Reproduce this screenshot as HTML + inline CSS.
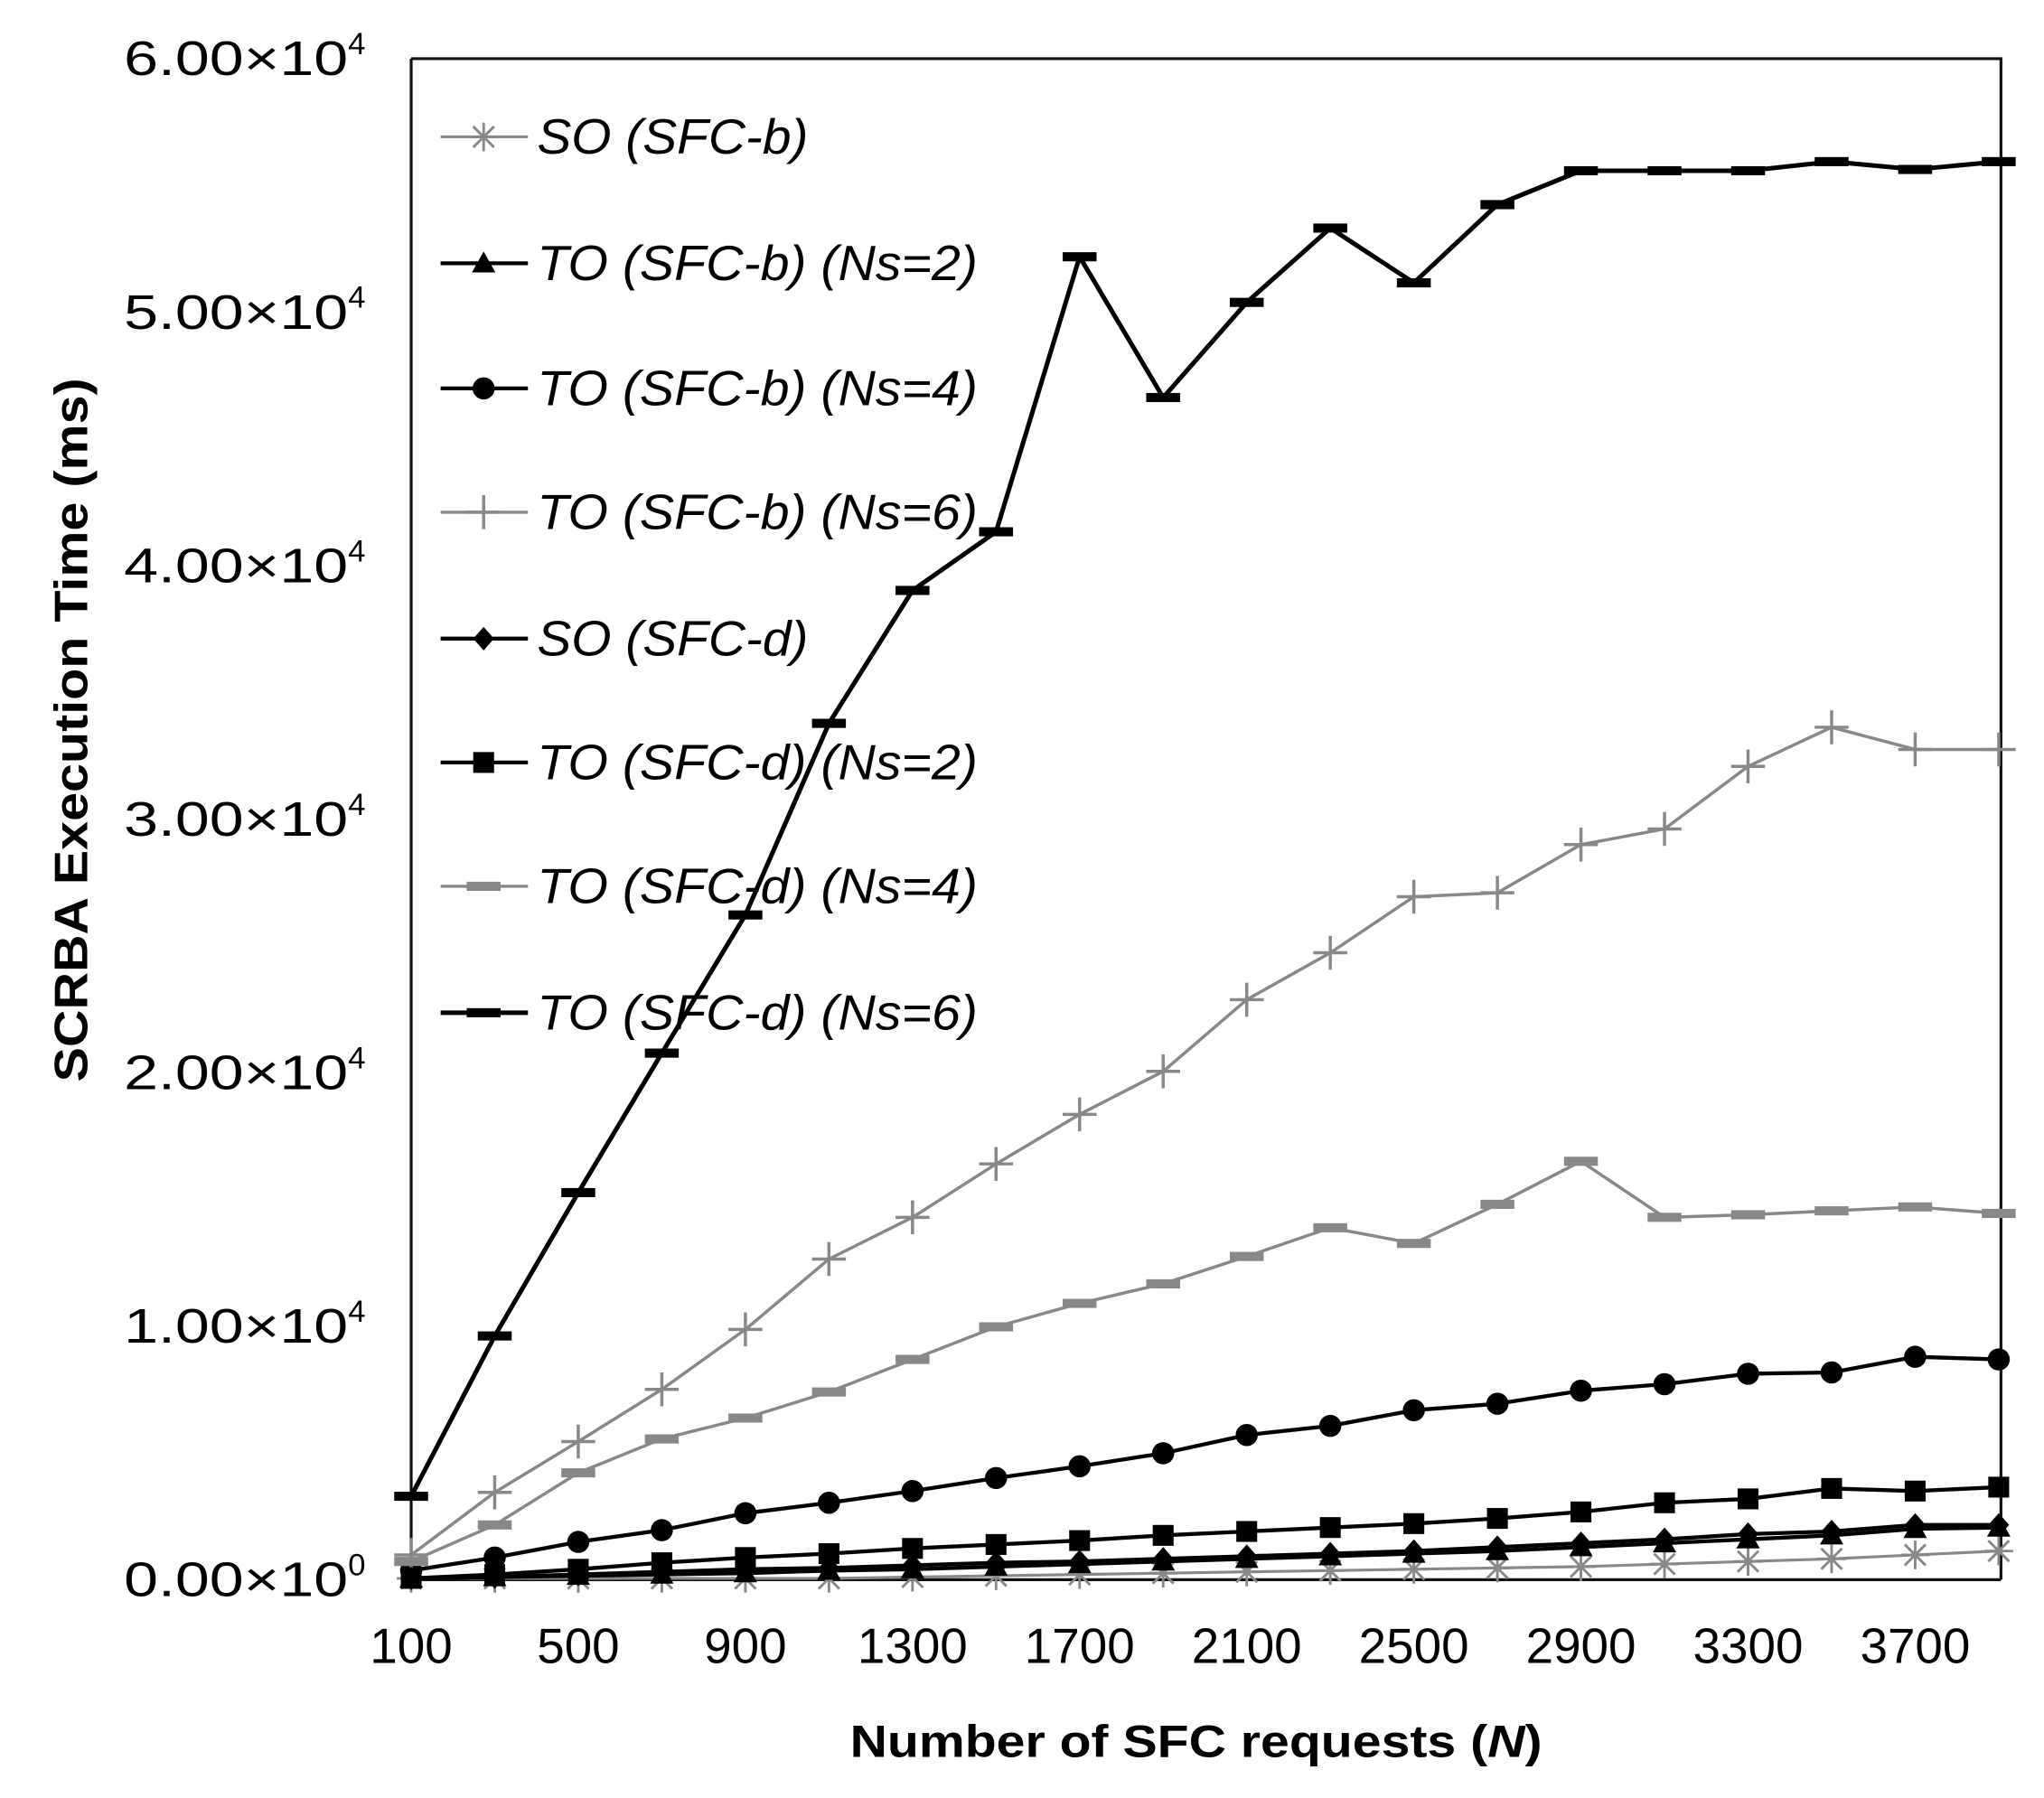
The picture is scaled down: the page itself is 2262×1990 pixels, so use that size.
<!DOCTYPE html>
<html><head><meta charset="utf-8"><style>html,body{margin:0;padding:0;background:#fff}svg{display:block}</style></head>
<body>
<svg id="s" width="2262" height="1990" viewBox="0 0 1568 1379.5" xmlns="http://www.w3.org/2000/svg" font-family="Liberation Sans, Arial, sans-serif">
<rect width="1568" height="1380" fill="#fff"/>
<g id="g"></g>
</svg>
<script>
const NS="http://www.w3.org/2000/svg",g=document.getElementById('g');
function el(t,a,txt){const e=document.createElementNS(NS,t);for(const k in a)e.setAttribute(k,a[k]);if(txt!==undefined)e.textContent=txt;g.appendChild(e);return e;}
const X=i=>315.4+i*64.1;
el('path',{d:'M315.4 45 H1535 V1212 M315.4 45 V1212 H1535',fill:'none',stroke:'#111','stroke-width':2.2});
const ylab=['0.00×10','1.00×10','2.00×10','3.00×10','4.00×10','5.00×10','6.00×10'];
for(let k=0;k<7;k++){const y=1211.7-k*194.5;const t=el('text',{x:95,y:y+13,'font-size':37});const a=document.createElementNS(NS,'tspan');a.setAttribute('textLength',172);a.setAttribute('lengthAdjust','spacingAndGlyphs');a.textContent=ylab[k];t.appendChild(a);const s=document.createElementNS(NS,'tspan');s.setAttribute('dy',-16);s.setAttribute('font-size',24);s.textContent=k?'4':'0';t.appendChild(s);}
for(let k=0;k<10;k++)el('text',{x:X(2*k),y:1276,'text-anchor':'middle','font-size':38},String(100+400*k));
const xt=el('text',{x:652,y:1348,'font-size':35,'font-weight':'bold',textLength:531,lengthAdjust:'spacingAndGlyphs'});
xt.innerHTML='Number of SFC requests (<tspan font-style="italic">N</tspan>)';
el('text',{x:0,y:0,transform:'translate(67 560) rotate(-90)','text-anchor':'middle','font-size':36,'font-weight':'bold',textLength:540,lengthAdjust:'spacingAndGlyphs'},'SCRBA Execution Time (ms)');
function mk(type,x,y,c){
 if(type=='dash')el('rect',{x:x-13,y:y-3.5,width:26,height:7,fill:c});
 else if(type=='plus'){el('path',{d:`M${x-13} ${y}H${x+13}M${x} ${y-13}V${y+13}`,stroke:c,'stroke-width':2.4});}
 else if(type=='circ')el('circle',{cx:x,cy:y,r:8.5,fill:c});
 else if(type=='sq')el('rect',{x:x-8,y:y-8,width:16,height:16,fill:c});
 else if(type=='dia')el('path',{d:`M${x} ${y-9}L${x+8} ${y}L${x} ${y+9}L${x-8} ${y}Z`,fill:c});
 else if(type=='tri')el('path',{d:`M${x} ${y-9}L${x+9} ${y+7}L${x-9} ${y+7}Z`,fill:c});
 else if(type=='ast'){el('path',{d:`M${x-11} ${y}H${x+11}M${x} ${y-11}V${y+11}M${x-8} ${y-8}L${x+8} ${y+8}M${x-8} ${y+8}L${x+8} ${y-8}`,stroke:c,'stroke-width':2});}
}
const S=[
['ast','#888',2.2,[1211,1211,1211,1211,1211,1211,1210,1209,1208,1207,1206,1205,1204,1203,1202,1200,1198,1196,1193,1190],'SO (SFC-b)',208],
['tri','#000',3,[1211,1210,1209,1208,1207,1205,1204,1202,1200,1198,1196,1194,1192,1190,1187,1184,1181,1178,1173,1172],'TO (SFC-b) (Ns=2)',338],
['circ','#000',3,[1205,1195,1183,1174,1161,1153,1144,1134,1125,1115,1101,1094,1082,1077,1067,1062,1054,1053,1041,1043],'TO (SFC-b) (Ns=4)',338],
['plus','#888',2.4,[1193,1145,1106,1066,1020,966,934,893,855,822,767,731,688,685,648,636,588,558,575,575],'TO (SFC-b) (Ns=6)',338],
['dia','#000',3,[1211,1210,1208,1206,1204,1203,1201,1199,1198,1196,1194,1192,1190,1187,1184,1181,1177,1175,1170,1170],'SO (SFC-d)',208],
['sq','#000',3,[1211,1208,1204,1199,1195,1192,1188,1185,1182,1178,1175,1172,1169,1165,1160,1153,1150,1142,1144,1141],'TO (SFC-d) (Ns=2)',338],
['dash','#888',2.4,[1198,1170,1130,1104,1088,1068,1043,1018,1000,985,964,942,954,924,891,934,932,929,926,931],'TO (SFC-d) (Ns=4)',338],
['dash','#000',3.5,[1148,1025,915,808,702,555,453,408,197,305,232,175,217,157,131,131,131,124,130,124],'TO (SFC-d) (Ns=6)',338]];
const LY=[105,202,298,393,490,585,680,777];
S.forEach((s,j)=>{
 el('polyline',{points:s[3].map((y,i)=>X(i)+','+y).join(' '),fill:'none',stroke:s[1],'stroke-width':s[2],'stroke-linejoin':'round'});
 s[3].forEach((y,i)=>mk(s[0],X(i),y,s[1]));
 el('line',{x1:338,x2:405,y1:LY[j],y2:LY[j],stroke:s[1],'stroke-width':s[2]});
 mk(s[0],371,LY[j],s[1]);
 el('text',{x:412,y:LY[j]+13,'font-size':38,'font-style':'italic',textLength:s[5],lengthAdjust:'spacingAndGlyphs'},s[4]);
});
</script>
</body></html>
